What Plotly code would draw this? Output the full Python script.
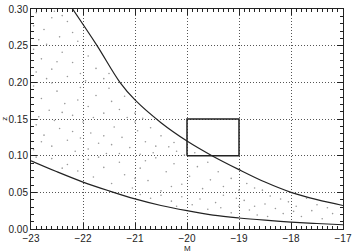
import plotly.graph_objects as go

# Upper limiting curve (faint apparent-magnitude limit)
M_upper = [-22.2, -21.73, -21.29, -21.0, -20.5, -20.0, -19.52, -19.0, -18.5, -18.0, -17.5, -17.0]
z_upper = [0.30, 0.25, 0.20, 0.176, 0.145, 0.12, 0.10, 0.081, 0.064, 0.050, 0.040, 0.032]

# Lower limiting curve (bright apparent-magnitude limit)
M_lower = [-23.0, -22.5, -22.0, -21.5, -21.0, -20.5, -20.0, -19.5, -19.0, -18.5, -18.0, -17.5, -17.0]
z_lower = [0.093, 0.078, 0.064, 0.052, 0.041, 0.032, 0.025, 0.019, 0.015, 0.012, 0.0095, 0.0075, 0.0058]

# Selection box
box_M = [-20.0, -19.0]
box_z = [0.10, 0.15]

# Galaxies
M_gal = [
    -22.9, -22.75, -22.6, -22.45, -22.85, -22.3, -22.55, -22.95, -22.2, -22.1, -22.7, -22.4,
    -22.95, -22.8, -22.6, -22.4, -22.2, -22.05, -21.9, -21.75, -21.6, -22.7, -22.9, -22.5, -21.95, -22.3, -21.5,
    -22.95, -22.8, -22.65, -22.5, -22.35, -22.2, -22.05, -21.9, -21.75, -21.6, -21.45, -21.3, -21.15, -21.0,
    -20.85, -22.85, -22.6, -22.1, -21.5, -21.8, -21.2, -22.4,
    -22.9, -22.75, -22.6, -22.45, -22.3, -22.15, -22.0, -21.85, -21.7, -21.55, -21.4, -21.25, -21.1, -20.95,
    -20.8, -20.65, -20.5, -20.35, -20.2, -20.05, -19.85, -22.95, -22.55, -22.2, -21.9, -21.6, -21.3, -21.0,
    -20.7, -20.6, -22.8, -22.05, -21.45, -20.9, -20.25,
    -22.9, -22.6, -22.3, -22.1, -21.9, -21.8, -21.6, -21.45, -21.3, -21.2, -21.05, -20.9, -20.75, -20.6,
    -20.5, -20.4, -20.25, -20.1, -19.95, -19.8, -19.7, -19.55, -19.4, -19.3, -19.15, -19.0, -18.85, -18.7,
    -20.8, -21.7, -22.4, -21.0, -20.3, -19.6, -18.55,
    -20.9, -20.7, -20.5, -20.3, -20.1, -19.9, -19.75, -19.6, -19.45, -19.3, -19.15, -19.0, -18.9, -18.8,
    -18.65, -18.5, -18.4, -18.3, -18.15, -18.05, -17.9, -17.8, -17.7, -17.6, -17.5, -17.4, -17.3, -17.2,
    -18.7, -18.2, -17.95, -19.35, -20.2, -19.05, -18.45,
]
z_gal = [
    0.295, 0.272, 0.288, 0.262, 0.258, 0.283, 0.297, 0.277, 0.268, 0.256, 0.252, 0.291,
    0.245, 0.232, 0.218, 0.241, 0.227, 0.212, 0.236, 0.219, 0.205, 0.205, 0.214, 0.228, 0.202, 0.208, 0.212,
    0.195, 0.178, 0.162, 0.188, 0.171, 0.155, 0.193, 0.167, 0.182, 0.158, 0.174, 0.163, 0.152, 0.158,
    0.151, 0.153, 0.199, 0.176, 0.192, 0.152, 0.181, 0.159,
    0.142, 0.128, 0.113, 0.137, 0.121, 0.106, 0.146, 0.131, 0.117, 0.103, 0.139, 0.125, 0.111, 0.134,
    0.119, 0.104, 0.127, 0.112, 0.106, 0.101, 0.104, 0.108, 0.148, 0.133, 0.109, 0.127, 0.103, 0.146,
    0.138, 0.113, 0.119, 0.124, 0.115, 0.102, 0.118,
    0.098, 0.096, 0.088, 0.079, 0.095, 0.071, 0.084, 0.062, 0.091, 0.074, 0.056, 0.083, 0.066, 0.097,
    0.052, 0.078, 0.089, 0.061, 0.072, 0.085, 0.055, 0.067, 0.078, 0.058, 0.069, 0.053, 0.062, 0.056,
    0.093, 0.098, 0.083, 0.069, 0.058, 0.091, 0.053,
    0.047, 0.042, 0.046, 0.038, 0.044, 0.033, 0.041, 0.027, 0.036, 0.046, 0.022, 0.031, 0.039, 0.026,
    0.019, 0.034, 0.045, 0.028, 0.021, 0.037, 0.031, 0.017, 0.042, 0.025, 0.033, 0.014, 0.029, 0.021,
    0.031, 0.041, 0.024, 0.029, 0.031, 0.042, 0.017,
]

x_ticks = [-23, -22, -21, -20, -19, -18, -17]
y_ticks = [0.00, 0.05, 0.10, 0.15, 0.20, 0.25, 0.30]

FONT = "Liberation Sans, Arial, sans-serif"
INK = "#222222"

fig = go.Figure()
fig.add_trace(go.Scatter(x=M_gal, y=z_gal, mode="markers",
                         marker=dict(size=1.6, color="#9a9a9a", line=dict(width=0)),
                         hoverinfo="skip"))
fig.add_trace(go.Scatter(x=M_upper, y=z_upper, mode="lines",
                         line=dict(color=INK, width=1.2, shape="spline")))
fig.add_trace(go.Scatter(x=M_lower, y=z_lower, mode="lines",
                         line=dict(color=INK, width=1.2, shape="spline")))
fig.add_trace(go.Scatter(
    x=[box_M[0], box_M[1], box_M[1], box_M[0], box_M[0]],
    y=[box_z[0], box_z[0], box_z[1], box_z[1], box_z[0]],
    mode="lines", line=dict(color=INK, width=1.5)))

axis_common = dict(
    showline=True, linecolor=INK, linewidth=1, mirror="allticks",
    ticks="inside", ticklen=6, tickcolor=INK, tickwidth=1,
    showgrid=True, gridcolor="#555555", gridwidth=1, griddash="1px,2px",
    zeroline=False, automargin=False,
    tickfont=dict(family=FONT, size=10, color=INK),
)

fig.update_xaxes(range=[-23, -17], tickmode="array", tickvals=x_ticks, ticklabelstandoff=0,
                 minor=dict(dtick=0.1, ticks="inside", ticklen=3, tickcolor=INK, tickwidth=1, showgrid=False),
                 **axis_common)
fig.update_yaxes(range=[0, 0.30], tickmode="array", tickvals=y_ticks, tickformat=".2f",
                 minor=dict(dtick=0.01, ticks="inside", ticklen=3, tickcolor=INK, tickwidth=1, showgrid=False),
                 **axis_common)

fig.add_annotation(text="M", xref="paper", yref="paper", x=0.5, y=-0.09,
                   showarrow=False, yanchor="middle", font=dict(family=FONT, size=8, color=INK))
fig.add_annotation(text="z", xref="paper", yref="paper", x=-0.087, y=0.5, textangle=-90,
                   showarrow=False, xanchor="center", font=dict(family=FONT, size=8, color=INK))

fig.update_layout(
    width=352, height=252,
    margin=dict(l=31, r=9, t=9, b=23),
    paper_bgcolor="white", plot_bgcolor="white",
    showlegend=False,
)

fig.write_html("out.html")
